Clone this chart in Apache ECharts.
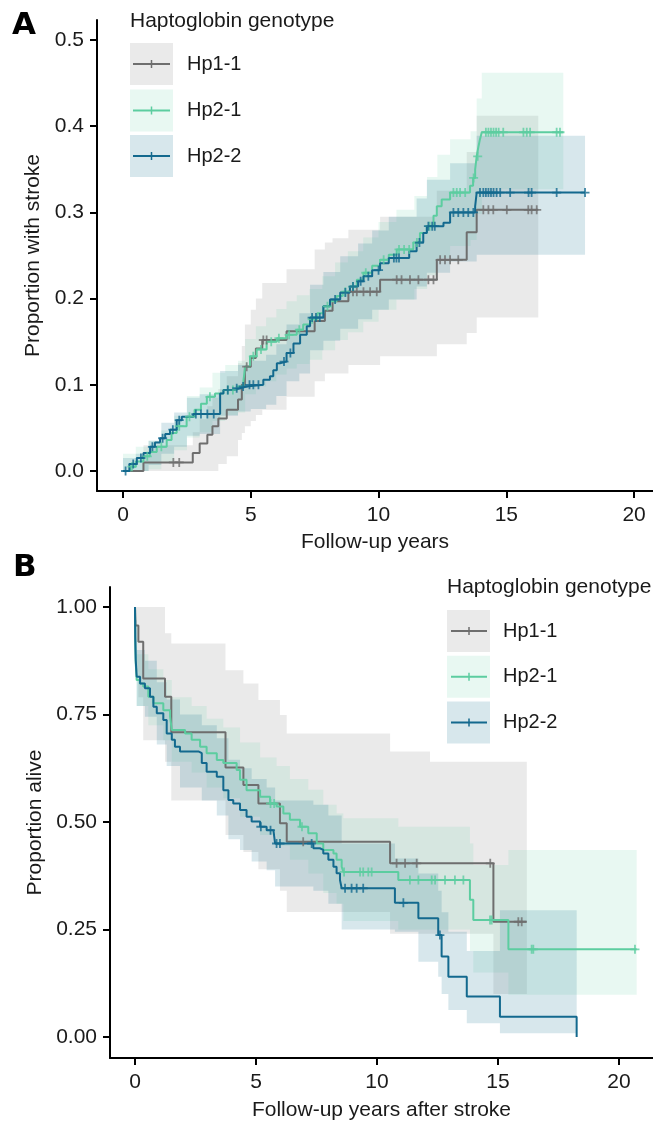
<!DOCTYPE html>
<html><head><meta charset="utf-8">
<script src="https://cdn.jsdelivr.net/npm/echarts@6/dist/echarts.min.js"></script>
<style>html,body{margin:0;padding:0;background:#fff}#c{width:653px;height:1124px}</style>
</head><body><div id="c"></div>
<script>
// ---------- tick labels ----------
const xTicks = [0, 5, 10, 15, 20];
const yTicksA = [0, 0.1, 0.2, 0.3, 0.4, 0.5];
const yLabelsA = ['0.0', '0.1', '0.2', '0.3', '0.4', '0.5'];
const yTicksB = [0, 0.25, 0.5, 0.75, 1];
const yLabelsB = ['0.00', '0.25', '0.50', '0.75', '1.00'];
const groups = ['Hp1-1', 'Hp2-1', 'Hp2-2'];

// ---------- Panel A: cumulative stroke ----------
const a11T = [0, 0.8, 2.73, 3.0, 3.3, 3.5, 3.73, 4.06, 4.5, 4.65, 4.77, 5.0, 5.2, 5.45, 6.4, 7.5, 7.9, 8.2, 8.82, 10.06, 12.28, 13.45, 13.84, 16.25];
const a11V = [0, 0.01, 0.021, 0.032, 0.042, 0.052, 0.061, 0.071, 0.083, 0.1, 0.121, 0.131, 0.142, 0.152, 0.162, 0.174, 0.186, 0.197, 0.208, 0.222, 0.245, 0.277, 0.303, 0.303];
const a11Lo = [0, 0, 0, 0, 0, 0, 0.008, 0.017, 0.036, 0.044, 0.052, 0.058, 0.065, 0.071, 0.086, 0.104, 0.113, 0.113, 0.123, 0.133, 0.147, 0.16, 0.178, 0.178];
const a11Hi = [0, 0.03, 0.045, 0.06, 0.075, 0.085, 0.095, 0.11, 0.125, 0.145, 0.17, 0.187, 0.2, 0.218, 0.234, 0.257, 0.265, 0.27, 0.28, 0.295, 0.325, 0.37, 0.412, 0.412];
const a11C = [1.97, 2.2, 4.84, 5.49, 5.62, 9.0, 9.15, 9.41, 9.67, 9.93, 10.71, 10.9, 11.23, 11.56, 11.95, 12.15, 12.41, 12.6, 12.8, 13.12, 14.1, 14.3, 14.49, 15.02, 15.86, 15.99, 16.19];

const a21T = [0, 0.27, 0.5, 0.8, 1.05, 1.32, 1.71, 1.9, 2.1, 2.49, 2.8, 3.05, 3.28, 3.6, 3.93, 4.45, 4.71, 4.78, 4.97, 5.23, 5.62, 6.02, 6.4, 6.8, 7.05, 7.32, 7.6, 7.84, 8.1, 8.36, 8.6, 8.88, 9.15, 9.41, 9.75, 10.06, 10.4, 10.71, 11.36, 11.62, 11.89, 12.15, 12.28, 12.47, 12.8, 13.58, 13.7, 13.78, 13.84, 13.9, 13.97, 14.04, 17.23];
const a21V = [0, 0.005, 0.011, 0.017, 0.022, 0.028, 0.036, 0.044, 0.052, 0.063, 0.071, 0.078, 0.086, 0.09, 0.094, 0.098, 0.104, 0.121, 0.133, 0.141, 0.150, 0.154, 0.158, 0.164, 0.17, 0.176, 0.183, 0.191, 0.197, 0.203, 0.208, 0.214, 0.222, 0.230, 0.238, 0.245, 0.251, 0.257, 0.265, 0.276, 0.284, 0.296, 0.307, 0.315, 0.323, 0.331, 0.34, 0.35, 0.365, 0.375, 0.385, 0.393, 0.393];
const a21bT = [0, 0.5, 1.0, 1.5, 2.0, 2.5, 3.0, 3.5, 4.0, 4.5, 4.78, 5.2, 5.6, 6.0, 6.4, 6.8, 7.3, 7.8, 8.3, 8.8, 9.4, 10.0, 10.7, 11.4, 11.9, 12.3, 12.8, 13.6, 13.84, 14.04, 17.23];
const a21Lo = [0, 0, 0.002, 0.01, 0.024, 0.039, 0.045, 0.058, 0.065, 0.068, 0.089, 0.098, 0.104, 0.112, 0.119, 0.124, 0.129, 0.14, 0.152, 0.161, 0.173, 0.187, 0.199, 0.211, 0.227, 0.247, 0.261, 0.268, 0.298, 0.327, 0.327];
const a21Hi = [0.02, 0.028, 0.035, 0.047, 0.064, 0.087, 0.097, 0.114, 0.123, 0.128, 0.153, 0.168, 0.178, 0.188, 0.197, 0.204, 0.211, 0.226, 0.242, 0.255, 0.271, 0.289, 0.303, 0.319, 0.341, 0.367, 0.385, 0.394, 0.432, 0.462, 0.462];
const a21C = [0.35, 0.95, 1.5, 2.2, 2.6, 3.4, 4.1, 4.3, 5.1, 5.4, 5.8, 6.1, 6.5, 6.9, 7.4, 8.0, 8.7, 9.0, 9.5, 10.2, 10.8, 11.0, 11.2, 11.5, 12.0, 12.93, 13.06, 13.19, 13.39, 13.72, 13.88, 14.2, 14.3, 14.4, 14.5, 14.6, 14.7, 14.88, 15.67, 15.8, 15.93, 16.97, 17.1];

const a22T = [0, 0.25, 0.54, 0.8, 1.06, 1.25, 1.45, 1.65, 1.84, 2.1, 2.3, 2.75, 3.8, 3.93, 4.32, 4.58, 4.84, 5.49, 5.75, 5.88, 6.02, 6.14, 6.4, 6.67, 6.93, 7.19, 7.32, 7.84, 8.1, 8.5, 8.88, 9.2, 9.41, 9.75, 10.06, 10.4, 11.2, 11.49, 11.75, 11.89, 12.54, 12.8, 13.78, 13.84, 18.08];
const a22V = [0, 0.008, 0.015, 0.021, 0.028, 0.033, 0.038, 0.043, 0.048, 0.059, 0.063, 0.066, 0.09, 0.094, 0.096, 0.098, 0.1, 0.106, 0.11, 0.117, 0.125, 0.127, 0.137, 0.148, 0.158, 0.168, 0.178, 0.191, 0.199, 0.207, 0.214, 0.22, 0.226, 0.233, 0.241, 0.247, 0.255, 0.265, 0.276, 0.284, 0.288, 0.3, 0.307, 0.323, 0.323];
const a22bT = [0, 0.5, 1.0, 1.5, 2.0, 2.5, 3.0, 3.8, 4.5, 5.0, 5.6, 6.0, 6.4, 6.9, 7.32, 7.84, 8.5, 9.2, 9.75, 10.4, 11.49, 11.89, 12.8, 13.84, 18.08];
const a22Lo = [0, 0, 0.007, 0.02, 0.028, 0.041, 0.043, 0.064, 0.069, 0.072, 0.077, 0.087, 0.104, 0.113, 0.14, 0.151, 0.165, 0.176, 0.187, 0.199, 0.214, 0.23, 0.243, 0.251, 0.251];
const a22Hi = [0.015, 0.02, 0.035, 0.056, 0.068, 0.085, 0.089, 0.116, 0.123, 0.128, 0.135, 0.147, 0.17, 0.183, 0.216, 0.231, 0.249, 0.264, 0.279, 0.295, 0.316, 0.338, 0.357, 0.389, 0.389];
const a22C = [0.1, 0.4, 0.7, 1.15, 1.55, 1.95, 2.2, 2.85, 3.05, 3.3, 3.55, 4.1, 4.45, 4.7, 4.95, 5.1, 5.3, 6.3, 6.55, 7.4, 7.55, 7.7, 8.3, 8.7, 9.0, 9.3, 9.6, 10.0, 10.6, 10.7, 10.8, 11.6, 11.95, 12.1, 12.2, 12.93, 13.12, 13.32, 13.51, 13.71, 13.97, 14.1, 14.2, 14.3, 14.4, 14.5, 14.62, 14.76, 15.15, 15.87, 15.99, 16.97, 18.08];

// ---------- Panel B: survival after stroke ----------
const b11T = [0, 0.02, 0.14, 0.34, 1.24, 1.5, 3.74, 4.48, 5.1, 5.99, 6.27, 10.54, 14.81, 16.19];
const b11V = [1.0, 0.957, 0.919, 0.834, 0.791, 0.709, 0.627, 0.586, 0.543, 0.497, 0.454, 0.404, 0.268, 0.268];
const b11bT = [0, 0.02, 0.14, 0.34, 1.24, 1.5, 3.74, 4.48, 5.1, 5.99, 6.27, 10.54, 12.19, 14.81, 16.19];
const b11Hi = [1, 1, 1, 1, 0.939, 0.915, 0.853, 0.822, 0.784, 0.749, 0.706, 0.664, 0.64, 0.64, 0.64];
const b11Lo = [1, 0.85, 0.79, 0.69, 0.64, 0.55, 0.47, 0.43, 0.39, 0.34, 0.291, 0.24, 0.24, 0.10, 0.10];
const b11C = [6.95, 10.81, 11.16, 11.64, 14.68, 15.84, 15.98];

const b21T = [0, 0.01, 0.03, 0.07, 0.2, 0.34, 0.55, 0.76, 1.17, 1.45, 1.52, 2.07, 2.34, 2.69, 2.96, 3.38, 3.65, 4.2, 4.34, 4.61, 5.17, 5.58, 5.85, 6.13, 6.4, 6.82, 7.16, 7.51, 7.78, 8.2, 8.33, 8.54, 8.61, 10.88, 13.84, 13.98, 15.43, 20.73];
const b21V = [1.0, 0.92, 0.87, 0.83, 0.822, 0.815, 0.791, 0.776, 0.76, 0.745, 0.714, 0.706, 0.691, 0.675, 0.66, 0.644, 0.637, 0.621, 0.598, 0.574, 0.559, 0.543, 0.536, 0.52, 0.505, 0.489, 0.474, 0.45, 0.435, 0.427, 0.412, 0.396, 0.384, 0.365, 0.319, 0.272, 0.204, 0.204];
const b21bT = [0, 0.01, 0.07, 0.55, 1.17, 1.52, 2.34, 2.96, 3.65, 4.34, 5.17, 5.85, 6.4, 7.16, 7.78, 8.33, 8.61, 10.88, 13.84, 13.98, 15.43, 20.73];
const b21Hi = [1.0, 0.96, 0.89, 0.855, 0.83, 0.79, 0.77, 0.74, 0.72, 0.685, 0.65, 0.63, 0.6, 0.575, 0.54, 0.52, 0.509, 0.489, 0.45, 0.40, 0.435, 0.435];
const b21Lo = [1.0, 0.87, 0.77, 0.725, 0.69, 0.64, 0.615, 0.58, 0.555, 0.512, 0.47, 0.445, 0.412, 0.38, 0.335, 0.31, 0.27, 0.25, 0.2, 0.15, 0.098, 0.098];
const b21C = [5.6, 5.75, 6.9, 8.64, 9.3, 9.43, 9.64, 9.78, 11.36, 11.71, 12.26, 12.4, 12.81, 13.22, 13.57, 14.67, 14.74, 16.39, 16.46, 20.66];

const b22T = [0, 0.01, 0.03, 0.07, 0.21, 0.41, 0.62, 0.76, 0.9, 1.17, 1.31, 1.52, 1.65, 1.86, 2.62, 2.76, 2.96, 3.38, 3.65, 3.86, 4.06, 4.34, 4.61, 4.82, 5.17, 5.44, 5.72, 5.79, 7.37, 7.64, 7.78, 7.99, 8.2, 8.33, 8.47, 8.54, 10.74, 11.71, 12.53, 12.67, 12.95, 13.71, 15.08, 18.25];
const b22V = [1.0, 0.93, 0.877, 0.838, 0.822, 0.811, 0.791, 0.768, 0.753, 0.737, 0.706, 0.691, 0.675, 0.664, 0.66, 0.637, 0.617, 0.605, 0.574, 0.551, 0.543, 0.528, 0.512, 0.501, 0.489, 0.481, 0.477, 0.45, 0.439, 0.435, 0.427, 0.412, 0.396, 0.381, 0.365, 0.346, 0.312, 0.276, 0.237, 0.187, 0.14, 0.094, 0.047, 0.0];
const b22bT = [0, 0.01, 0.07, 0.41, 0.9, 1.31, 1.86, 2.76, 3.38, 3.86, 4.34, 4.82, 5.44, 5.79, 7.37, 7.99, 8.54, 10.74, 11.71, 12.53, 12.67, 12.95, 13.71, 15.08, 18.25];
const b22Hi = [1.0, 0.97, 0.9, 0.875, 0.825, 0.785, 0.75, 0.725, 0.695, 0.645, 0.625, 0.6, 0.58, 0.55, 0.54, 0.515, 0.45, 0.415, 0.38, 0.34, 0.29, 0.245, 0.2, 0.295, 0.295];
const b22Lo = [1.0, 0.88, 0.77, 0.745, 0.68, 0.63, 0.58, 0.55, 0.515, 0.46, 0.435, 0.408, 0.388, 0.35, 0.34, 0.31, 0.25, 0.245, 0.175, 0.14, 0.1, 0.063, 0.032, 0.009, 0.009];
const b22C = [5.2, 5.6, 5.85, 5.99, 7.3, 8.68, 8.95, 9.16, 9.43, 11.09, 12.6];

// ---------- styles ----------
const FONT = '"Liberation Sans", Arial, sans-serif';
const TXT = '#1a1a1a';
const LINE_COL = ['#6e6e6e', '#5ccda0', '#13698e'];
const BAND_COL = ['rgba(128,128,128,0.17)', 'rgba(102,205,170,0.15)', 'rgba(20,110,145,0.17)'];
const PLUS = 'path://M4,0H6V4H10V6H6V10H4V6H0V4H4Z';

function stepVal(T, V, t) { let v = V[0]; for (let i = 0; i < T.length; i++) { if (T[i] <= t) v = V[i]; else break; } return v; }
function labelFor(ticks, labels) { return v => { const i = ticks.findIndex(t => Math.abs(t - v) < 1e-9); return i >= 0 ? labels[i] : ''; }; }

function bandSeries(ax, T, LO, HI, color) {
  return {
    type: 'custom', xAxisIndex: ax, yAxisIndex: ax, silent: true, z: 1, animation: false, clip: true,
    data: T.map((t, i) => [t, LO[i], HI[i]]), encode: { x: 0, y: [1, 2] },
    renderItem: (params, api) => {
      if (params.dataIndex !== 0) return null;
      const up = [], dn = [];
      for (let i = 0; i < T.length - 1; i++) {
        up.push(api.coord([T[i], HI[i]]), api.coord([T[i + 1], HI[i]]));
        dn.push(api.coord([T[i], LO[i]]), api.coord([T[i + 1], LO[i]]));
      }
      return { type: 'polygon', shape: { points: up.concat(dn.reverse()) }, style: { fill: color } };
    }
  };
}
function lineSeries(ax, T, V, color, name) {
  return { type: 'line', name, xAxisIndex: ax, yAxisIndex: ax, step: 'end', symbol: 'none', showSymbol: false,
    data: T.map((t, i) => [t, V[i]]), lineStyle: { color, width: 2 }, itemStyle: { color }, z: 3, silent: true, animation: false };
}
function censorSeries(ax, T, V, C, color) {
  return { type: 'scatter', xAxisIndex: ax, yAxisIndex: ax, symbol: PLUS, symbolSize: [9, 9],
    data: C.map(t => [t, stepVal(T, V, t)]), itemStyle: { color }, z: 4, silent: true, animation: false };
}

function xAxisCfg(grid, min, max, name, gap) {
  return { gridIndex: grid, type: 'value', min, max, name, nameLocation: 'middle', nameGap: gap,
    nameTextStyle: { fontSize: 21, color: TXT, fontFamily: FONT },
    axisLine: { onZero: false, lineStyle: { color: '#000', width: 2 } },
    axisTick: { show: true, customValues: xTicks, length: 7, lineStyle: { color: '#000', width: 2 } },
    axisLabel: { customValues: xTicks, margin: 14, fontSize: 21, color: TXT, fontFamily: FONT },
    splitLine: { show: false } };
}
function yAxisCfg(grid, min, max, ticks, labels, name, gap) {
  return { gridIndex: grid, type: 'value', min, max, name, nameLocation: 'middle', nameGap: gap, nameRotate: 90,
    nameTextStyle: { fontSize: 21, color: TXT, fontFamily: FONT },
    axisLine: { onZero: false, lineStyle: { color: '#000', width: 2 } },
    axisTick: { show: true, customValues: ticks, length: 7, lineStyle: { color: '#000', width: 2 } },
    axisLabel: { customValues: ticks, margin: 13, fontSize: 21, color: TXT, fontFamily: FONT, formatter: labelFor(ticks, labels) },
    splitLine: { show: false } };
}

function legend(x, titleY, centers, lineX0, lineX1, textX) {
  const els = [{ type: 'text', left: x, top: titleY - 12, style: { text: 'Haptoglobin genotype', font: '21px ' + FONT, fill: TXT } }];
  groups.forEach((g, i) => {
    const cy = centers[i];
    els.push({ type: 'rect', shape: { x: x, y: cy - 21, width: 43, height: 42 }, style: { fill: BAND_COL[i] } });
    els.push({ type: 'line', shape: { x1: lineX0, y1: cy, x2: lineX1, y2: cy }, style: { stroke: LINE_COL[i], lineWidth: 2 } });
    els.push({ type: 'line', shape: { x1: (lineX0 + lineX1) / 2, y1: cy - 4, x2: (lineX0 + lineX1) / 2, y2: cy + 4 }, style: { stroke: LINE_COL[i], lineWidth: 1.5 } });
    els.push({ type: 'text', x: textX, y: cy, style: { text: g, font: '20px ' + FONT, fill: TXT, textVerticalAlign: 'middle' } });
  });
  return els;
}

const series = [];
[[a11T, a11Lo, a11Hi], [a21bT, a21Lo, a21Hi], [a22bT, a22Lo, a22Hi]].forEach((b, i) => series.push(bandSeries(0, b[0], b[1], b[2], BAND_COL[i])));
[[b11bT, b11Lo, b11Hi], [b21bT, b21Lo, b21Hi], [b22bT, b22Lo, b22Hi]].forEach((b, i) => series.push(bandSeries(1, b[0], b[1], b[2], BAND_COL[i])));
[[a11T, a11V, a11C], [a21T, a21V, a21C], [a22T, a22V, a22C]].forEach((c, i) => { series.push(lineSeries(0, c[0], c[1], LINE_COL[i], groups[i])); series.push(censorSeries(0, c[0], c[1], c[2], LINE_COL[i])); });
[[b11T, b11V, b11C], [b21T, b21V, b21C], [b22T, b22V, b22C]].forEach((c, i) => { series.push(lineSeries(1, c[0], c[1], LINE_COL[i], groups[i])); series.push(censorSeries(1, c[0], c[1], c[2], LINE_COL[i])); });

const chart = echarts.init(document.getElementById('c'), null, { renderer: 'canvas' });
chart.setOption({
  animation: false,
  backgroundColor: '#fff',
  grid: [
    { left: 97, top: 20, width: 556, height: 471 },
    { left: 110, top: 587, width: 543, height: 471 }
  ],
  xAxis: [xAxisCfg(0, -1.018, 20.74, 'Follow-up years', 41), xAxisCfg(1, -1.033, 21.405, 'Follow-up years after stroke', 42)],
  yAxis: [yAxisCfg(0, -0.0232, 0.5232, yTicksA, yLabelsA, 'Proportion with stroke', 50), yAxisCfg(1, -0.0488, 1.0465, yTicksB, yLabelsB, 'Proportion alive', 62)],
  series,
  graphic: [
    { type: 'text', left: 12, top: 10, style: { text: 'A', font: 'bold 31px "DejaVu Sans", sans-serif', fill: '#000' } },
    { type: 'text', left: 13, top: 552, style: { text: 'B', font: 'bold 31px "DejaVu Sans", sans-serif', fill: '#000' } }
  ].concat(legend(130, 22.5, [64, 110.5, 156], 133, 170, 187)).concat(legend(447, 588.5, [631, 676.7, 722.5], 451, 487, 503))
});
</script></body></html>
